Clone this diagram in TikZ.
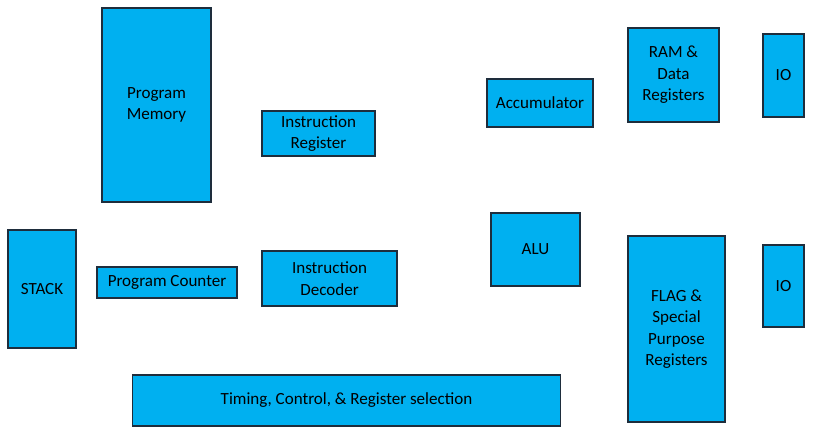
\documentclass[tikz,border=0pt]{standalone}
\usepackage{fontspec}
\setmainfont{Carlito}
\usetikzlibrary{positioning}
\definecolor{blockfill}{RGB}{0, 176, 240}
\definecolor{blockline}{RGB}{30, 45, 60}

\begin{document}
\begin{tikzpicture}[
    x=0.02cm, y=-0.02cm,
    block/.style={draw=blockline, fill=blockfill, line width=0.6pt, inner sep=0pt, align=center, font=\fontsize{9.7}{12.2}\selectfont},
]
    \useasboundingbox (0,0) rectangle (819,439);

    % Fetch side
    \node[block, minimum width=2.18cm, minimum height=3.88cm] (progmem) at (156.5,105) {Program\\Memory};
    \node[block, minimum width=2.26cm, minimum height=0.90cm] (instreg) at (318.5,133.5) {Instruction\\Register};
    \node[block, minimum width=1.36cm, minimum height=2.36cm] (stack) at (42,289) {STACK};
    \node[block, minimum width=2.80cm, minimum height=0.62cm] (progcount) at (167,282.5) {Program Counter};
    \node[block, minimum width=2.70cm, minimum height=1.10cm] (instdec) at (329.5,278.5) {Instruction\\Decoder};

    % Execute side
    \node[block, minimum width=2.12cm, minimum height=0.96cm] (acc) at (540,103) {Accumulator};
    \node[block, minimum width=1.78cm, minimum height=1.46cm] (alu) at (535.5,249.5) {ALU};
    \node[block, minimum width=1.82cm, minimum height=1.88cm] (ram) at (673.5,75) {RAM \&\\Data\\Registers};
    \node[block, minimum width=1.94cm, minimum height=3.72cm] (flags) at (676.5,329) {FLAG \&\\Special\\Purpose\\Registers};

    % IO
    \node[block, minimum width=0.82cm, minimum height=1.66cm] (iotop) at (783.5,75.5) {IO};
    \node[block, minimum width=0.82cm, minimum height=1.64cm] (iobot) at (783.5,286) {IO};

    % Control
    \node[block, minimum width=8.58cm, minimum height=1.02cm] (timing) at (346.5,400.5) {Timing, Control, \& Register selection};

\end{tikzpicture}
\end{document}
